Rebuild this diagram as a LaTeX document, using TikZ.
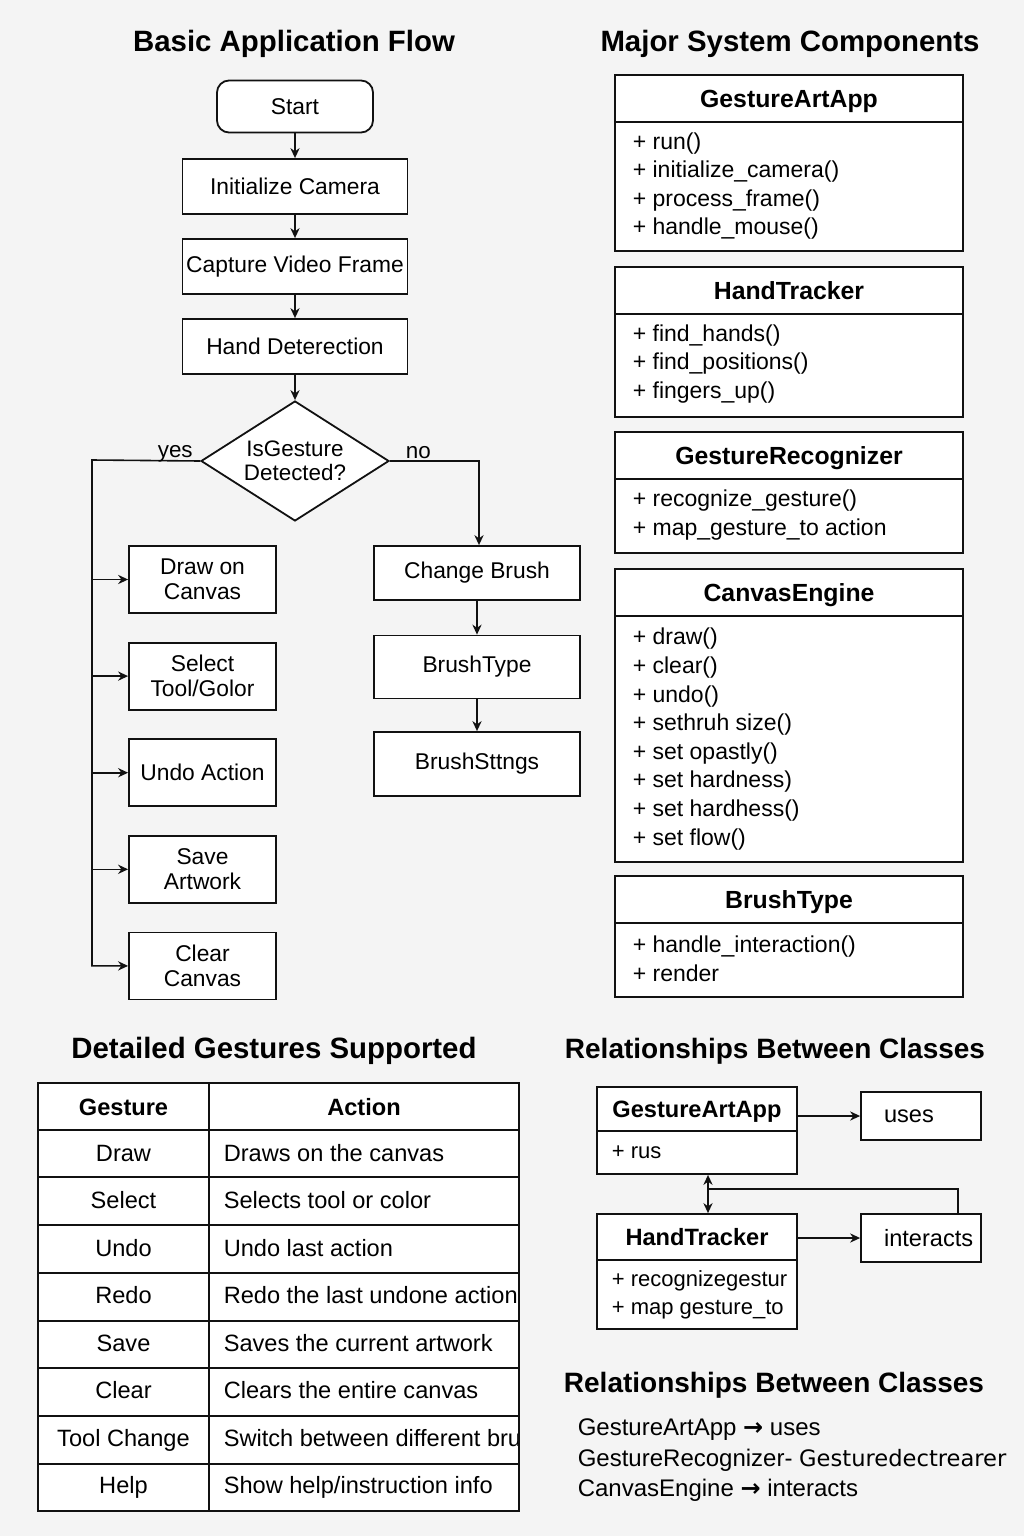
\documentclass[tikz,border=0pt]{standalone}
\usepackage{fontspec}
\setmainfont{Liberation Sans}
\newfontfamily\symfont{DejaVu Sans}
\usetikzlibrary{arrows,arrows.meta,positioning,shapes.geometric}
\definecolor{paper}{HTML}{F4F4F4}
\definecolor{ink}{HTML}{111111}

\tikzset{
  box/.style={draw=ink,fill=white,line width=0.9pt,align=center,inner sep=1pt,
              font=\fontsize{11.4}{12.5}\selectfont},
  proc/.style={box,minimum width=112.5pt,minimum height=27.5pt},
  actbox/.style={box,minimum width=73.5pt,minimum height=33.5pt},
  decision/.style={box,diamond,aspect=1.57,minimum width=94pt,minimum height=60pt,
                   inner sep=0pt,font=\fontsize{11.2}{12.2}\selectfont},
  lbl/.style={anchor=base,inner sep=0pt,yshift=1.5pt,font=\fontsize{11.2}{12}\selectfont},
  title/.style={text depth=0pt,font=\bfseries\fontsize{14.7}{17}\selectfont},
  subtitle/.style={text depth=0pt,font=\bfseries\fontsize{14}{17}\selectfont},
  cls/.style={draw=ink,fill=white,line width=0.9pt,minimum width=174pt},
  clshead/.style={draw=ink,line width=0.9pt,minimum width=174pt,minimum height=23.5pt,
                  inner sep=0pt,text depth=0pt,font=\bfseries\fontsize{12.4}{14}\selectfont},
  meth/.style={anchor=west,align=left,inner sep=0pt,font=\fontsize{11.5}{14.3}\selectfont},
  cell/.style={anchor=base,inner sep=0pt,font=\fontsize{11.8}{13}\selectfont},
  grid/.style={draw=ink,line width=0.9pt},
  tag/.style={box,minimum width=60pt,minimum height=24pt,inner xsep=4pt,
              font=\fontsize{11.8}{13}\selectfont},
  note/.style={anchor=west,inner sep=0pt,font=\fontsize{12}{14}\selectfont}
}

\begin{document}
\begin{tikzpicture}[x=0.5pt,y=-0.5pt,->,>={Stealth[length=5pt,width=4.6pt]},line width=0.8pt,
                    draw=ink,node distance=40pt]
  \path[use as bounding box,fill=paper,draw=none] (0,0) rectangle (1024,1536);

  % application flow
  \node[title] (flowtitle) at (294,41) {Basic Application Flow};
  \node[box,rounded corners=6pt,minimum width=78pt,minimum height=26pt] (start) at (295,106.5) {Start};
  \node[proc] (cam)  [below of=start] {Initialize Camera};
  \node[proc] (cap)  [below of=cam]   {Capture Video Frame};
  \node[proc] (hand) [below of=cap]   {Hand Deterection};
  \node[decision] (dec) at (295,461) {IsGesture\\Detected?};

  \node[actbox] (paint) at (202.5,579.5) {Draw on\\Canvas};
  \node[actbox,node distance=48.3pt] (pick) [below of=paint] {Select\\Tool/Golor};
  \node[actbox,node distance=48.3pt] (undo) [below of=pick]  {Undo Action};
  \node[actbox,node distance=48.3pt] (save) [below of=undo]  {Save\\Artwork};
  \node[actbox,node distance=48.3pt] (wipe) [below of=save]  {Clear\\Canvas};

  \node[proc,minimum width=103pt,minimum height=27pt] (chg) at (477,573) {Change Brush};
  \node[proc,minimum width=103pt,minimum height=31.5pt,node distance=47pt] (btype) [below of=chg] {BrushType};
  \node[proc,minimum width=103pt,minimum height=32pt,node distance=48.5pt] (bset) [below of=btype] {BrushSttngs};

  \coordinate (bus) at (92,460);
  \path (start) edge (cam)
        (cam)   edge (cap)
        (cap)   edge (hand)
        (hand)  edge (dec)
        (chg)   edge (btype)
        (btype) edge (bset);
  \draw (dec.west) -- node[lbl,pos=.23] {yes} (bus) |- (wipe);
  \foreach \n in {paint,pick,undo,save}
    \draw (bus |- \n) -- (\n);
  \draw (dec.east) -- node[lbl,pos=.32] {no} (dec.east -| 479,0) -- (chg.north -| 479,0);

  % system components
  \node[title] (comptitle) at (790,41) {Major System Components};
  \node[cls,minimum height=88pt] (app) at (789,163) {};
  \node[clshead,anchor=north] (apphead) at (app.north) {GestureArtApp};
  \node[meth] (appmeth) at (632,186) {+ run()\\+ initialize\_camera()\\+ process\_frame()\\+ handle\_mouse()};

  \node[cls,minimum height=75pt] (trk) at (789,342) {};
  \node[clshead,anchor=north] (trkhead) at (trk.north) {HandTracker};
  \node[meth] (trkmeth) at (632,364) {+ find\_hands()\\+ find\_positions()\\+ fingers\_up()};

  \node[cls,minimum height=60.5pt] (rec) at (789,492.5) {};
  \node[clshead,anchor=north] (rechead) at (rec.north) {GestureRecognizer};
  \node[meth] (recmeth) at (632,515) {+ recognize\_gesture()\\+ map\_gesture\_to action};

  \node[cls,minimum height=146.5pt] (cnv) at (789,715.5) {};
  \node[clshead,anchor=north] (cnvhead) at (cnv.north) {CanvasEngine};
  \node[meth] (cnvmeth) at (632,739) {+ draw()\\+ clear()\\+ undo()\\+ sethruh size()\\+ set opastly()\\+ set hardness)\\+ set hardhess()\\+ set flow()};

  \node[cls,minimum height=60.5pt] (brs) at (789,936.5) {};
  \node[clshead,anchor=north] (brshead) at (brs.north) {BrushType};
  \node[meth] (brsmeth) at (632,959) {+ handle\_interaction()\\+ render};

  % gesture table
  \node[title] (tabtitle) at (274,1048) {Detailed Gestures Supported};
  \fill[white] (38,1083) rectangle (519,1511);
  \begin{scope}
    \clip (38,1083) rectangle (519,1511);
    \node[cell] (g0) at (123.5,1115) {\bfseries Gesture};
    \node[cell] (a0) at (364,1115) {\bfseries Action};
    \foreach \g/\a [count=\i] in {Draw/Draws on the canvas,Select/Selects tool or color,
        Undo/Undo last action,Redo/Redo the last undone action,Save/Saves the current artwork,
        Clear/Clears the entire canvas,Tool Change/Switch between different brus,
        Help/{Show help/instruction info}} {
      \node[cell] (g\i) at (123.5,1113.5+47.5*\i) {\g};
      \node[cell,anchor=base west] (a\i) at (223,1113.5+47.5*\i) {\a};
    }
  \end{scope}
  \draw[-,grid] (38,1083) rectangle (519,1511);
  \draw[-,grid] (209,1083) -- (209,1511);
  \foreach \y in {1130,1177,1225,1273,1321,1368,1416,1464}
    \draw[-,grid] (38,\y) -- (519,\y);

  % relationships
  \node[subtitle] (reltitle) at (775,1048) {Relationships Between Classes};
  \node[cls,minimum width=100pt,minimum height=43.5pt] (app2) at (697,1130.5) {};
  \node[clshead,minimum width=100pt,minimum height=22pt,anchor=north,
        font=\bfseries\fontsize{11.8}{13}\selectfont] (app2head) at (app2.north) {GestureArtApp};
  \node[meth,font=\fontsize{11}{14}\selectfont] (app2meth) at (611,1152) {+ rus};
  \node[cls,minimum width=100pt,minimum height=57.5pt] (trk2) at (697,1271.5) {};
  \node[clshead,minimum width=100pt,minimum height=23pt,anchor=north,
        font=\bfseries\fontsize{11.8}{13}\selectfont] (trk2head) at (trk2.north) {HandTracker};
  \node[meth,font=\fontsize{11}{14}\selectfont] (trk2meth) at (611,1295) {+ recognizegestur\\+ map gesture\_to};
  \node[tag] (uses)  at (921,1116) {\makebox[37pt][l]{uses}};
  \node[tag] (inter) at (921,1238) {\makebox[37pt][l]{interacts}};

  \coordinate (link) at (708,1189);
  \coordinate (bend) at (958,1189);
  \draw (app2.east |- uses) -- (uses);
  \draw (trk2.east |- inter) -- (inter);
  \draw[<->] (app2.south -| link) -- (trk2.north -| link);
  \draw[-] (inter.north -| bend) -- (bend) -- (link);

  \node[subtitle] (reltitle2) at (774,1382) {Relationships Between Classes};
  \node[note] (rel1) at (577,1430) {GestureArtApp {\symfont\bfseries →} uses};
  \node[note] (rel2) at (577,1460) {GestureRecognizer- {\symfont\fontsize{11.3}{14}\selectfont Gesturedectrearer}};
  \node[note] (rel3) at (577,1490) {CanvasEngine {\symfont\bfseries →} interacts};
\end{tikzpicture}
\end{document}
